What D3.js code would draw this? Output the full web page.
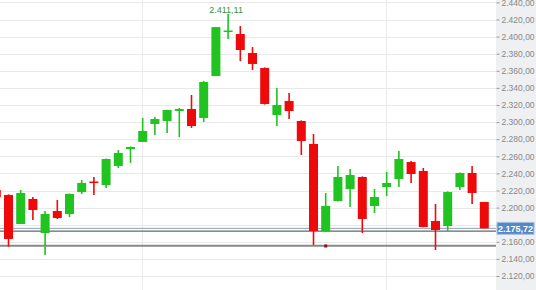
<!DOCTYPE html>
<html>
<head>
<meta charset="utf-8">
<script src="https://cdn.jsdelivr.net/npm/d3@7"></script>
<style>
  body { margin: 0; background: #fff; }
  svg { display: block; font-family: "Liberation Sans", Arial, sans-serif; }
</style>
</head>
<body>
<div id="chart"></div>
<script>
// Daily candles, first one is cut by the left edge
const days = [0, 1, 2, 3, 4, 5, 6, 7, 8, 9, 10, 11, 12, 13, 14, 15, 16, 17, 18, 19, 20,
              21, 22, 23, 24, 25, 26, 27, 28, 29, 30, 31, 32, 33, 34, 35, 36, 37, 38, 39, 40];
const open  = [2220.6, 2214.7, 2180.8, 2210.1, 2170.3, 2196.0, 2192.5, 2218.2, 2230.5, 2226.4, 2248.7,
               2268.5, 2276.7, 2297.8, 2301.3, 2313.0, 2315.3, 2304.8, 2353.9, 2406.3, 2403.0,
               2380.8, 2363.3, 2308.3, 2324.7, 2301.3, 2274.4, 2172.6, 2207.7, 2221.8, 2235.8,
               2201.9, 2224.1, 2233.5, 2253.3, 2242.8, 2184.3, 2178.5, 2224.1, 2240.5, 2206.6];
const high  = [2222.0, 2215.5, 2220.6, 2212.4, 2196.0, 2208.9, 2216.5, 2232.3, 2235.8, 2257.5, 2267.4,
               2271.5, 2304.8, 2306.0, 2314.5, 2316.5, 2331.7, 2348.1, 2411.11, 2426.4, 2412.4,
               2387.8, 2364.0, 2339.9, 2334.0, 2302.0, 2286.1, 2217.1, 2248.7, 2245.1, 2236.5,
               2221.8, 2241.6, 2266.2, 2254.5, 2246.3, 2204.2, 2219.0, 2241.0, 2248.7, 2206.6];
const low   = [2210.0, 2154.3, 2180.8, 2185.5, 2144.6, 2186.7, 2189.0, 2215.9, 2214.7, 2222.9, 2246.3,
               2252.2, 2276.7, 2284.9, 2287.3, 2282.5, 2293.1, 2300.1, 2353.9, 2397.1, 2371.4,
               2361.0, 2320.5, 2295.4, 2303.6, 2261.5, 2156.3, 2172.0, 2207.0, 2200.7, 2170.3,
               2193.7, 2213.6, 2224.1, 2228.8, 2177.0, 2150.4, 2172.6, 2220.6, 2204.2, 2175.72];
const close = [2212.4, 2163.3, 2217.1, 2197.2, 2192.5, 2187.8, 2215.9, 2228.8, 2229.4, 2256.8, 2263.9,
               2270.9, 2289.6, 2303.6, 2314.2, 2315.3, 2295.4, 2346.9, 2411.11, 2407.1, 2384.3,
               2368.0, 2321.2, 2320.0, 2313.0, 2277.9, 2172.6, 2201.9, 2235.8, 2238.1, 2186.7,
               2212.4, 2228.8, 2256.8, 2239.3, 2177.3, 2173.8, 2218.2, 2240.5, 2217.1, 2175.72];

const yTicks = [2120, 2140, 2160, 2180, 2200, 2220, 2240, 2260, 2280, 2300,
                2320, 2340, 2360, 2380, 2400, 2420, 2440];
const monthStarts = [12, 32];       // vertical grid lines
const lastPrice = 2175.72;
const refLine = 2172.6;             // dark line just under the price
const lowLine = 2155.4;             // grey line further down
const markerDay = 27, markerValue = 2155.1;
const peakDay = 19, peakLabel = 2411.11;

const W = 536, H = 290, plotRight = 496;

const de = d3.formatLocale({ decimal: ",", thousands: ".", grouping: [3], currency: ["", ""] });
const fmt = de.format(",.2f");

const candles = days.map((d, i) => ({ day: d, o: open[i], h: high[i], l: low[i], c: close[i] }));

const x = d3.scalePoint().domain(days).range([-3.7, 484.3]);
const y = d3.scaleLinear().domain([2120, 2440]).range([276, 2.4]);

const svg = d3.select("#chart").append("svg")
    .attr("width", W)
    .attr("height", H);

// horizontal grid
svg.append("g")
    .selectAll("line")
    .data(yTicks)
    .enter().append("line")
    .attr("x1", 0).attr("x2", plotRight)
    .attr("y1", d => Math.round(y(d)) + 0.5)
    .attr("y2", d => Math.round(y(d)) + 0.5)
    .attr("stroke", "#e9e9e9");

// vertical grid
svg.append("g")
    .selectAll("line")
    .data(monthStarts)
    .enter().append("line")
    .attr("x1", d => Math.round(x(d)) - 0.5)
    .attr("x2", d => Math.round(x(d)) - 0.5)
    .attr("y1", 0).attr("y2", H)
    .attr("stroke", "#e9e9e9");

// reference lines
svg.append("line")
    .attr("x1", 0).attr("x2", plotRight)
    .attr("y1", y(lowLine)).attr("y2", y(lowLine))
    .attr("stroke", "#888").attr("stroke-width", 2);
svg.append("line")
    .attr("x1", 0).attr("x2", plotRight)
    .attr("y1", y(refLine)).attr("y2", y(refLine))
    .attr("stroke", "#666").attr("stroke-width", 1.3);
svg.append("line")
    .attr("x1", 0).attr("x2", plotRight)
    .attr("y1", y(lastPrice)).attr("y2", y(lastPrice))
    .attr("stroke", "#8aa4c2").attr("stroke-width", 1);

const colorOf = d => d.c >= d.o ? "#20c320" : "#ee0a0a";

const cg = svg.append("g");
cg.selectAll(".wick")
    .data(candles)
    .enter().append("line")
    .attr("class", "wick")
    .attr("x1", d => x(d.day)).attr("x2", d => x(d.day))
    .attr("y1", d => y(d.h)).attr("y2", d => y(d.l))
    .attr("stroke", colorOf)
    .attr("stroke-width", 1.6);

cg.selectAll(".body")
    .data(candles)
    .enter().append("rect")
    .attr("class", "body")
    .attr("x", d => x(d.day) - 4.5)
    .attr("width", 9)
    .attr("y", d => y(Math.max(d.o, d.c)))
    .attr("height", d => Math.max(1.5, Math.abs(y(d.o) - y(d.c))))
    .attr("fill", colorOf);

// small event marker
svg.append("rect")
    .attr("x", x(markerDay) - 1.5).attr("y", y(markerValue) - 1.5)
    .attr("width", 3).attr("height", 3)
    .attr("fill", "#8b1010");

// peak annotation
svg.append("text")
    .attr("x", x(peakDay) - 2)
    .attr("y", 13)
    .attr("text-anchor", "middle")
    .style("font-size", "9px")
    .style("fill", "#3d8f3d")
    .text(fmt(peakLabel));

// right axis panel
svg.append("rect")
    .attr("x", plotRight).attr("y", 0)
    .attr("width", W - plotRight).attr("height", H)
    .attr("fill", "#eef0f2");

const axis = svg.append("g")
    .attr("transform", `translate(${plotRight + 0.5},0)`)
    .call(d3.axisRight(y).tickValues(yTicks).tickSize(3).tickPadding(2).tickFormat(fmt));
axis.select(".domain").remove();
axis.selectAll(".tick line").attr("stroke", "#999");
axis.selectAll(".tick text")
    .style("font-size", "8.5px")
    .style("font-family", "'Liberation Sans', Arial, sans-serif")
    .attr("fill", "#888");

// last price box
const py = y(lastPrice);
svg.append("rect")
    .attr("x", plotRight + 1).attr("y", py - 6)
    .attr("width", 37).attr("height", 12)
    .attr("fill", "#5289c7")
    .attr("stroke", "#a9c2de");
svg.append("text")
    .attr("x", plotRight + 19.5).attr("y", py + 3.5)
    .attr("text-anchor", "middle")
    .style("font-size", "9px")
    .style("font-weight", "bold")
    .style("fill", "#fff")
    .text(fmt(lastPrice));
</script>
</body>
</html>
